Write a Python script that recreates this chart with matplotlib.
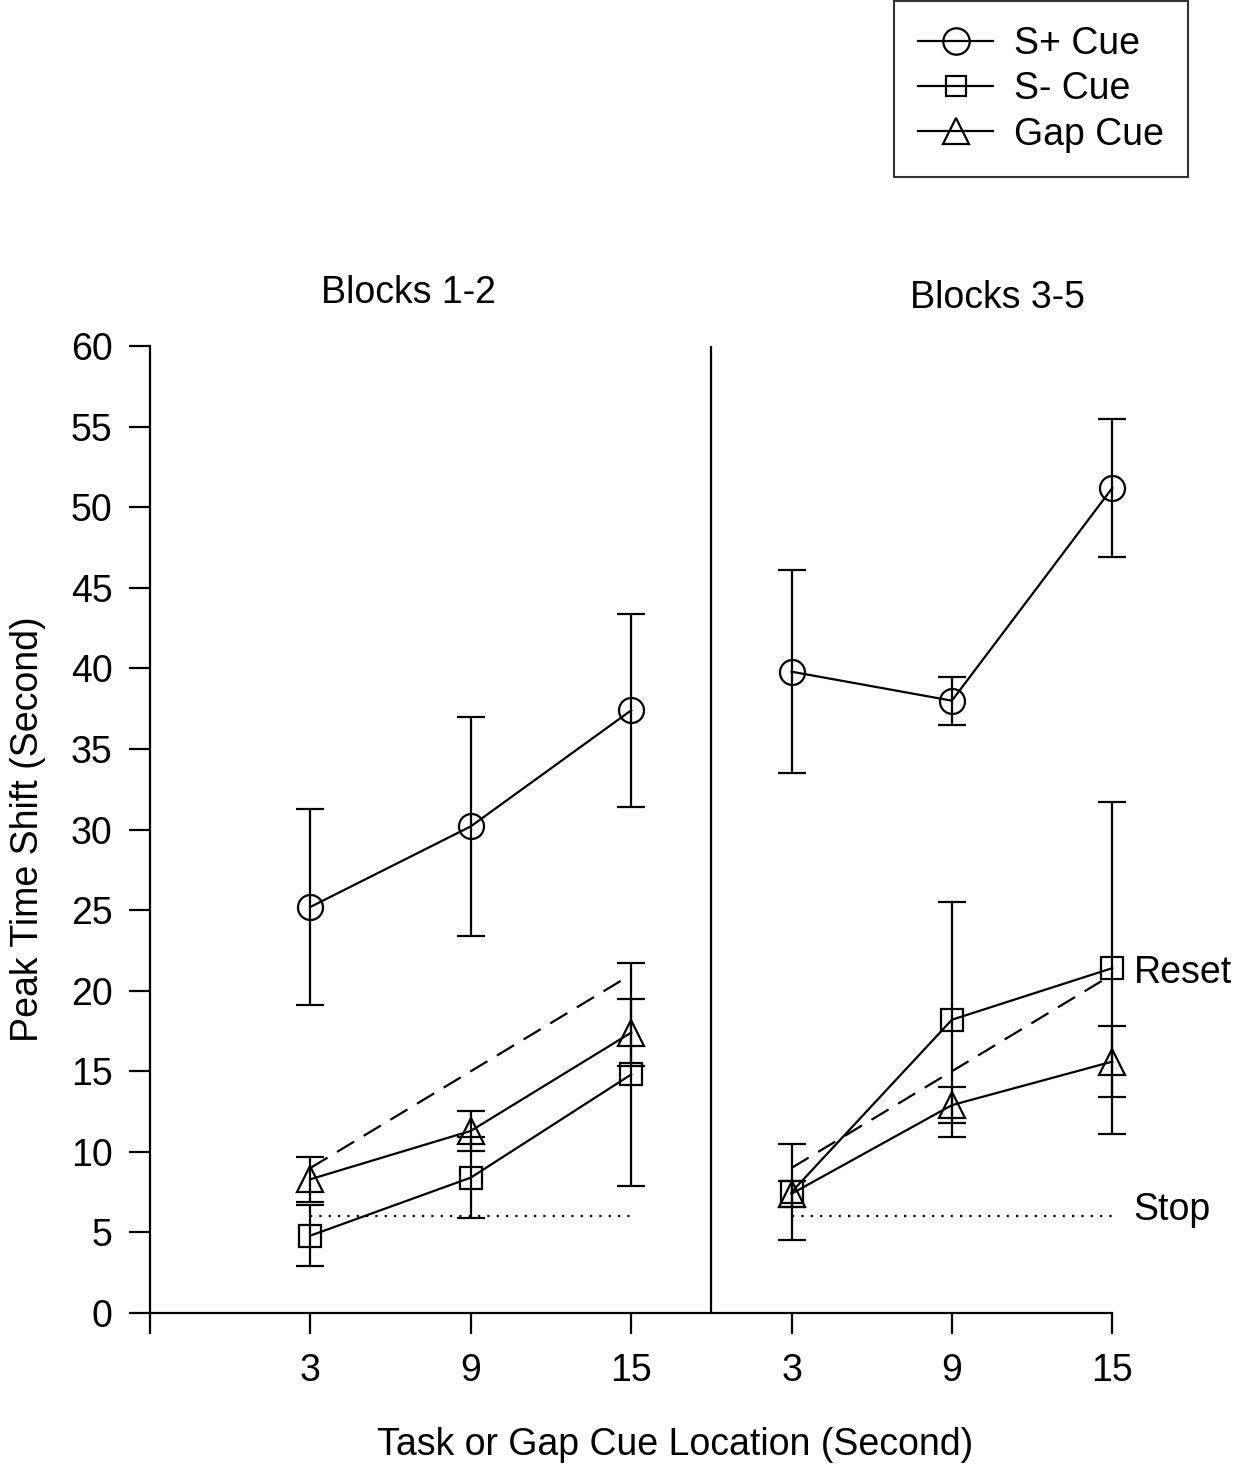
import matplotlib.pyplot as plt
from matplotlib.lines import Line2D

plt.rcParams['font.family'] = ['Liberation Sans', 'DejaVu Sans']

# cue locations (s) within each block group
cue_loc = [3, 9, 15]

# Blocks 1-2: mean peak time shift and error
splus_b12 = [25.2, 30.2, 37.4]
splus_b12_err = [6.1, 6.8, 6.0]
sminus_b12 = [4.8, 8.4, 14.8]
sminus_b12_err = [1.9, 2.5, 6.9]
gap_b12 = [8.3, 11.3, 17.4]
gap_b12_err = [1.4, 1.25, 2.1]

# Blocks 3-5
splus_b35 = [39.8, 38.0, 51.2]
splus_b35_err = [6.3, 1.5, 4.3]
sminus_b35 = [7.5, 18.2, 21.4]
sminus_b35_err = [3.0, 7.3, 10.3]
gap_b35 = [7.4, 12.9, 15.6]
gap_b35_err = [0.8, 1.1, 2.2]

# model predictions: reset (cue location + 6) and stop (constant 6)
reset_x = [3, 15]
reset_y = [9, 21]
stop_x = [3, 15]
stop_y = [6, 6]

offset = 18  # second panel drawn to the right of the first on one axis

fig = plt.figure(figsize=(12.4, 14.67), dpi=100)
ax = fig.add_axes([0.121, 0.105, 0.776, 0.659])

lw = 1.6
fs = 27
series = [
    (splus_b12, splus_b12_err, splus_b35, splus_b35_err, 'o', 18),
    (sminus_b12, sminus_b12_err, sminus_b35, sminus_b35_err, 's', 16.5),
    (gap_b12, gap_b12_err, gap_b35, gap_b35_err, '^', 19),
]
for y1, e1, y2, e2, m, ms in series:
    for xs, ys, es in [(cue_loc, y1, e1), ([x + offset for x in cue_loc], y2, e2)]:
        line, caps, bars = ax.errorbar(xs, ys, yerr=es, color='black', lw=lw,
                                       marker=m, ms=ms, mfc='none', mec='black',
                                       mew=lw, capsize=10, capthick=lw,
                                       elinewidth=lw)
        for artist in [line, *caps, *bars]:
            artist.set_clip_on(False)

for dx in [0, offset]:
    ax.plot([x + dx for x in reset_x], reset_y, color='black', lw=lw,
            linestyle=(0, (9, 5)))
    ax.plot([x + dx for x in stop_x], stop_y, color='black', lw=1.6,
            linestyle=(0, (1, 3.2)))

ax.axvline(offset, color='black', lw=lw)

ax.set_xlim(-3, 33)
ax.set_ylim(0, 60)
ax.set_xticks([x for x in cue_loc] + [x + offset for x in cue_loc])
ax.set_xticklabels([str(x) for x in cue_loc] * 2)
ax.set_xticks([-3], minor=True)
ax.set_yticks(range(0, 61, 5))
ax.tick_params(axis='both', which='both', direction='out', length=15, width=lw,
               labelsize=fs, pad=12)
ax.tick_params(axis='x', pad=14)
ax.spines['top'].set_visible(False)
ax.spines['right'].set_visible(False)
ax.spines['left'].set_linewidth(lw)
ax.spines['bottom'].set_linewidth(lw)

ax.set_ylabel('Peak Time Shift (Second)', fontsize=fs)
ax.yaxis.set_label_coords(-0.108, 0.5)
ax.set_xlabel('Task or Gap Cue Location (Second)', fontsize=fs)
ax.xaxis.set_label_coords(0.546, -0.118)

ax.text(6.67, 63.3, 'Blocks 1-2', fontsize=fs, ha='center', va='center')
ax.text(28.7, 63.0, 'Blocks 3-5', fontsize=fs, ha='center', va='center')
ax.text(33.8, 21.1, 'Reset', fontsize=fs, ha='left', va='center')
ax.text(33.8, 6.4, 'Stop', fontsize=fs, ha='left', va='center')

handles = [
    Line2D([], [], color='black', lw=lw, marker='o', ms=19, mfc='none', mew=lw),
    Line2D([], [], color='black', lw=lw, marker='s', ms=15, mfc='none', mew=lw),
    Line2D([], [], color='black', lw=lw, marker='^', ms=19, mfc='none', mew=lw),
]
leg = fig.legend(handles, ['S+ Cue', 'S- Cue', 'Gap Cue'], loc='upper right',
                 bbox_to_anchor=(0.958, 0.999), fontsize=fs, frameon=True,
                 fancybox=False, edgecolor='black', handlelength=2.0,
                 borderpad=0.65, labelspacing=0.25, handletextpad=0.55,
                 borderaxespad=0)
leg.get_frame().set_linewidth(1.5)

fig.savefig('out.png', dpi=100, facecolor='white')
